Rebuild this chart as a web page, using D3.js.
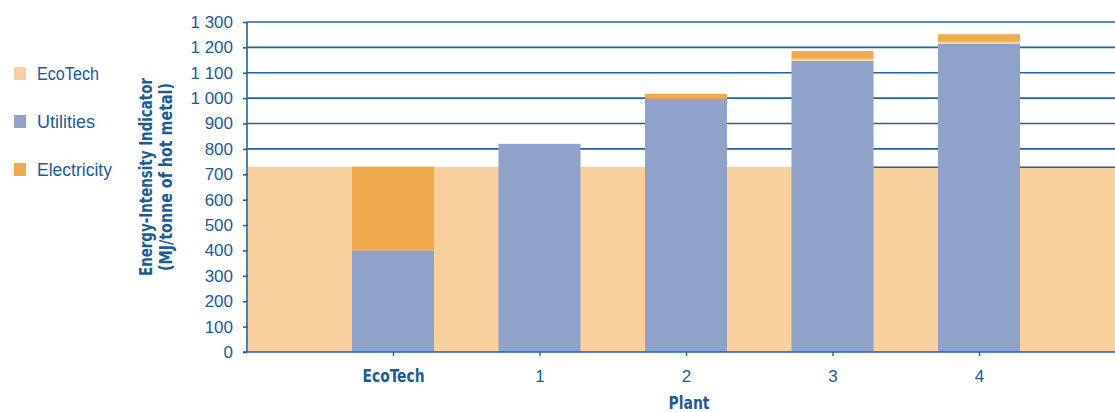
<!DOCTYPE html>
<html>
<head>
<meta charset="utf-8">
<script src="https://cdn.jsdelivr.net/npm/d3@7"></script>
<style>
  html, body { margin: 0; padding: 0; background: #ffffff; }
  svg { display: block; }
</style>
</head>
<body>
<svg id="chart" width="1115" height="412"></svg>
<script>
// Energy-intensity per plant, MJ per tonne of hot metal
const categories = ["EcoTech", "1", "2", "3", "4"];
const utilities   = [400, 820, 997, 1147, 1214];
const transition  = [0, 0, 0, 8, 8];        // thin light band between the two stacked parts
const electricity = [330, 0, 20, 31, 30];
const ecoTechBenchmark = 730;                // EcoTech total, drawn as a background band
const yTicks = [0, 100, 200, 300, 400, 500, 600, 700, 800, 900, 1000, 1100, 1200, 1300];
const legendItems = ["EcoTech", "Utilities", "Electricity"];
const legendWidths = [62, 58, 75];

const colors = {
  ecotech: "#f7d09e",
  utilities: "#8ea2ca",
  electricity: "#eeaa4c",
  axis: "#2162a2",
  text: "#1d5b98"
};

const condensed = "'DejaVu Sans Condensed', 'Liberation Sans Narrow', sans-serif";
const plain = "'Liberation Sans', Arial, sans-serif";

const svg = d3.select("#chart");
const x0 = 247, x1 = 1115, yTop = 22, yBottom = 352;

const y = d3.scaleLinear().domain([0, 1300]).range([yBottom, yTop]);
const x = d3.scalePoint().domain(categories).range([x0 + 146, x1 - 136]);
const barW = 82;

const tickFmt = d => d3.format(",")(d).replace(/,/g, " ");

// Gridlines
svg.append("g")
  .selectAll("line")
  .data(yTicks.filter(d => d > 0))
  .join("line")
  .attr("x1", x0).attr("x2", x1)
  .attr("y1", d => y(d)).attr("y2", d => y(d))
  .attr("stroke", colors.axis)
  .attr("stroke-width", 1.6);

// EcoTech benchmark band
svg.append("rect")
  .attr("x", x0 + 1)
  .attr("y", y(ecoTechBenchmark))
  .attr("width", x1 - x0 - 1)
  .attr("height", y(0) - y(ecoTechBenchmark))
  .attr("fill", colors.ecotech);

// benchmark edge line to the right of plant 3
svg.append("line")
  .attr("x1", x("3") + barW / 2).attr("x2", x1)
  .attr("y1", y(ecoTechBenchmark) + 0.5).attr("y2", y(ecoTechBenchmark) + 0.5)
  .attr("stroke", colors.axis)
  .attr("stroke-width", 1.4);

// Stacked bars
const rows = categories.map((c, i) => ({
  cat: c, utilities: utilities[i], transition: transition[i], electricity: electricity[i]
}));
const stack = d3.stack().keys(["utilities", "transition", "electricity"]);
const series = stack(rows);
const fillFor = { utilities: colors.utilities, transition: colors.ecotech, electricity: colors.electricity };

svg.append("g")
  .selectAll("g")
  .data(series)
  .join("g")
  .attr("fill", s => fillFor[s.key])
  .selectAll("rect")
  .data(s => s.filter(d => d[1] > d[0]))
  .join("rect")
  .attr("x", d => x(d.data.cat) - barW / 2)
  .attr("width", barW)
  .attr("y", d => y(d[1]))
  .attr("height", d => y(d[0]) - y(d[1]));

// Y axis
const yAxis = svg.append("g")
  .attr("transform", `translate(${x0},0)`)
  .call(d3.axisLeft(y).tickValues(yTicks).tickFormat(tickFmt).tickSize(4).tickPadding(10).tickSizeOuter(0));
yAxis.select(".domain").attr("stroke", colors.axis).attr("stroke-width", 1.6)
  .attr("d", `M0,${yBottom}V${yTop}`);
yAxis.selectAll(".tick line").attr("stroke", colors.axis).attr("stroke-width", 1.6);
yAxis.selectAll(".tick text")
  .attr("fill", colors.text)
  .style("font-family", plain)
  .style("font-size", "17px");

// X axis
const xAxis = svg.append("g")
  .attr("transform", `translate(0,${yBottom})`)
  .call(d3.axisBottom(x).tickSize(4).tickPadding(14).tickSizeOuter(0));
xAxis.select(".domain").attr("stroke", colors.axis).attr("stroke-width", 1.6)
  .attr("d", `M${x0 - 4},0H${x1}`);
xAxis.selectAll(".tick line").attr("stroke", colors.axis).attr("stroke-width", 1.4);
xAxis.selectAll(".tick text")
  .attr("fill", colors.text)
  .style("font-family", d => d === "EcoTech" ? condensed : plain)
  .style("font-weight", d => d === "EcoTech" ? "bold" : "normal")
  .style("font-size", "17px")
  .each(function (d) {
    if (d === "EcoTech") {
      d3.select(this).attr("textLength", 62).attr("lengthAdjust", "spacingAndGlyphs");
    }
  });

// Axis titles
svg.append("text")
  .attr("x", 689)
  .attr("y", 409)
  .attr("text-anchor", "middle")
  .attr("fill", colors.text)
  .attr("textLength", 41)
  .attr("lengthAdjust", "spacingAndGlyphs")
  .style("font-family", condensed)
  .style("font-weight", "bold")
  .style("font-size", "17px")
  .text("Plant");

const yTitle = svg.append("text")
  .attr("transform", "translate(152,177) rotate(-90)")
  .attr("text-anchor", "middle")
  .attr("fill", colors.text)
  .style("font-family", condensed)
  .style("font-weight", "bold")
  .style("font-size", "17px");
yTitle.append("tspan").attr("x", 0).attr("dy", 0)
  .attr("textLength", 198).attr("lengthAdjust", "spacingAndGlyphs")
  .text("Energy-Intensity Indicator");
yTitle.append("tspan").attr("x", 0).attr("dy", 20)
  .attr("textLength", 188).attr("lengthAdjust", "spacingAndGlyphs")
  .text("(MJ/tonne of hot metal)");

// Legend
const legendColors = [colors.ecotech, colors.utilities, colors.electricity];
const legend = svg.append("g")
  .selectAll("g")
  .data(legendItems)
  .join("g")
  .attr("transform", (d, i) => `translate(14,${67 + i * 48})`);
legend.append("rect")
  .attr("width", 12).attr("height", 13)
  .attr("fill", (d, i) => legendColors[i]);
legend.append("text")
  .attr("x", 23).attr("y", 13)
  .attr("fill", colors.text)
  .attr("textLength", (d, i) => legendWidths[i])
  .attr("lengthAdjust", "spacingAndGlyphs")
  .style("font-family", plain)
  .style("font-size", "18px")
  .text(d => d);
</script>
</body>
</html>
